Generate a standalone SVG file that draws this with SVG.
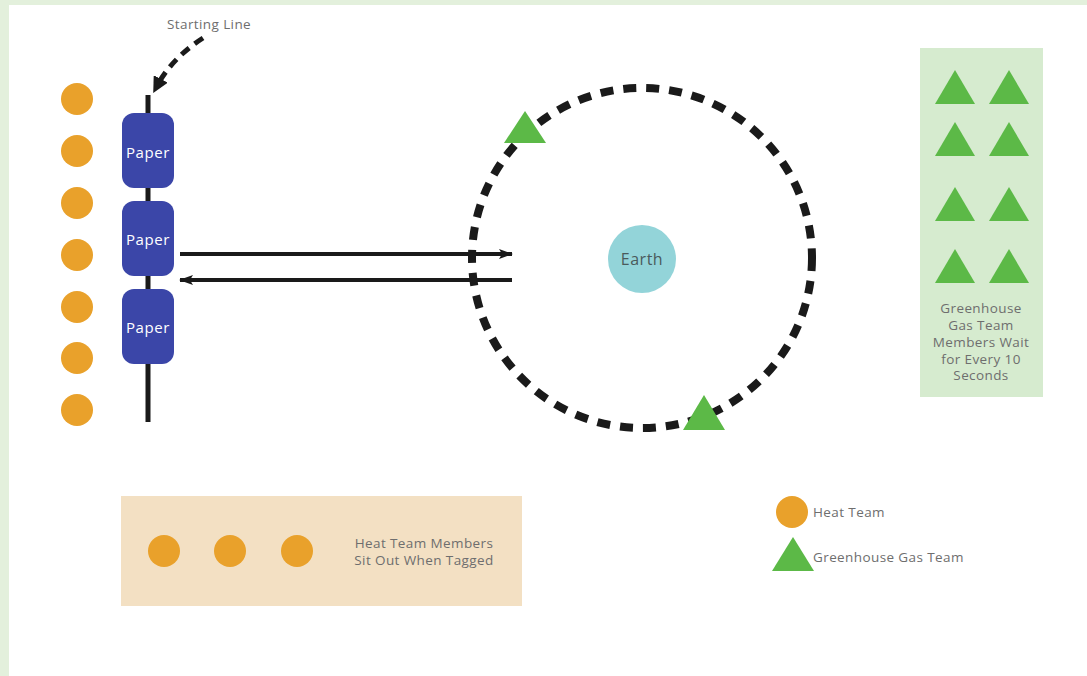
<svg xmlns="http://www.w3.org/2000/svg" width="1087" height="676" viewBox="0 0 1087 676">
<defs>
<style>
.heat{fill:#e9a12b}
.gas{fill:#5cb947}
.paper{fill:#3b46a8}
.ptxt{font-family:"Open Sans",sans-serif;font-size:15px;letter-spacing:0.6px;fill:#ffffff;text-anchor:middle}
.lbl{font-family:"Open Sans",sans-serif;font-size:13.5px;letter-spacing:0.4px;fill:#6e6e6e}
.mid{text-anchor:middle}
</style>
<marker id="ah" markerWidth="14" markerHeight="10" refX="13" refY="5" orient="auto" markerUnits="userSpaceOnUse">
<path d="M0,0 L14,5 L0,10 L3,5 Z" fill="#1a1a1a"/>
</marker>
<marker id="ah2" markerWidth="16" markerHeight="16" refX="8" refY="8" orient="auto" markerUnits="userSpaceOnUse">
<path d="M0,0 L16,8 L0,16 Z" fill="#1a1a1a"/>
</marker>
</defs>
<rect x="0" y="0" width="1087" height="676" fill="#ffffff"/>
<rect x="0" y="0" width="1087" height="5" fill="#e3f0dc"/>
<rect x="0" y="0" width="9" height="676" fill="#e3f0dc"/>

<g id="starting-line">
<line x1="148" y1="95" x2="148" y2="422" stroke="#1a1a1a" stroke-width="5"/>
<text class="lbl" x="167" y="29">Starting Line</text>
</g>

<g id="heat-line">
<circle class="heat" cx="77" cy="99" r="16"/>
<circle class="heat" cx="77" cy="151" r="16"/>
<circle class="heat" cx="77" cy="203" r="16"/>
<circle class="heat" cx="77" cy="255" r="16"/>
<circle class="heat" cx="77" cy="307" r="16"/>
<circle class="heat" cx="77" cy="358" r="16"/>
<circle class="heat" cx="77" cy="410" r="16"/>
</g>

<g id="paper1"><rect class="paper" x="122" y="113" width="52" height="75" rx="12"/><text class="ptxt" x="148" y="158">Paper</text></g>
<g id="paper2"><rect class="paper" x="122" y="201" width="52" height="75" rx="12"/><text class="ptxt" x="148" y="245">Paper</text></g>
<g id="paper3"><rect class="paper" x="122" y="289" width="52" height="75" rx="12"/><text class="ptxt" x="148" y="333">Paper</text></g>

<g id="orbit">
<circle cx="642" cy="258" r="170" fill="none" stroke="#1a1a1a" stroke-width="8" stroke-dasharray="13 10"/>
</g>

<g id="earth">
<circle cx="642" cy="259" r="34" fill="#93d4d9"/>
<text class="mid" x="642" y="265" style="font-family:'Open Sans',sans-serif;font-size:16px;letter-spacing:0.5px;fill:#4a5a5c">Earth</text>
</g>

<g id="orbit-gas">
<polygon class="gas" points="525,111 546,143 504,143"/>
<polygon class="gas" points="704,395 725,430 683,430"/>
</g>

<g id="gas-waiting">
<rect x="920" y="48" width="123" height="349" fill="#d6ebcf"/>
<polygon class="gas" points="955,70 975,104 935,104"/>
<polygon class="gas" points="1009,70 1029,104 989,104"/>
<polygon class="gas" points="955,122 975,156 935,156"/>
<polygon class="gas" points="1009,122 1029,156 989,156"/>
<polygon class="gas" points="955,187 975,221 935,221"/>
<polygon class="gas" points="1009,187 1029,221 989,221"/>
<polygon class="gas" points="955,249 975,283 935,283"/>
<polygon class="gas" points="1009,249 1029,283 989,283"/>
<text class="lbl mid" x="981" y="313">Greenhouse</text>
<text class="lbl mid" x="981" y="330">Gas Team</text>
<text class="lbl mid" x="981" y="347">Members Wait</text>
<text class="lbl mid" x="981" y="364">for Every 10</text>
<text class="lbl mid" x="981" y="380">Seconds</text>
</g>

<g id="heat-out">
<rect x="121" y="496" width="401" height="110" fill="#f3e0c3"/>
<circle class="heat" cx="164" cy="551" r="16"/>
<circle class="heat" cx="230" cy="551" r="16"/>
<circle class="heat" cx="297" cy="551" r="16"/>
<text class="lbl mid" x="424" y="548">Heat Team Members</text>
<text class="lbl mid" x="424" y="565">Sit Out When Tagged</text>
</g>

<g id="legend">
<circle class="heat" cx="792" cy="512" r="16"/>
<text class="lbl" x="813" y="517">Heat Team</text>
<polygon class="gas" points="793,537 814,571 772,571"/>
<text class="lbl" x="813" y="562">Greenhouse Gas Team</text>
</g>

<g id="connectors" fill="none" stroke="#1a1a1a">
<path d="M203,38 Q172,58 157,86" stroke-width="5" stroke-dasharray="10 7" marker-end="url(#ah2)"/>
<line x1="180" y1="254" x2="512" y2="254" stroke-width="4" marker-end="url(#ah)"/>
<line x1="512" y1="280" x2="180" y2="280" stroke-width="4" marker-end="url(#ah)"/>
</g>
</svg>
